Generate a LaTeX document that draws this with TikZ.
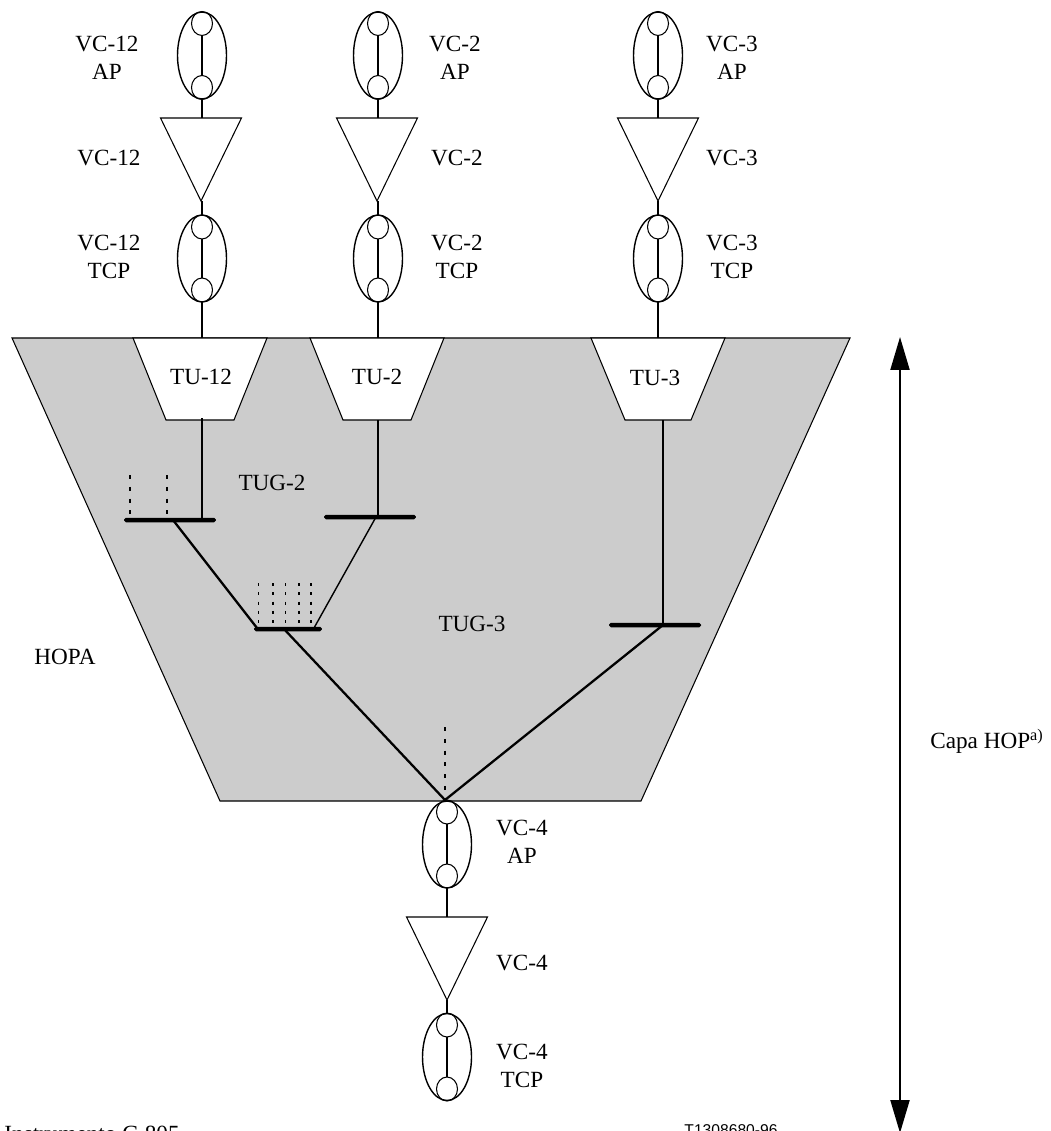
\documentclass[tikz,border=0pt]{standalone}
\usepackage{fontspec}
\setmainfont{Liberation Serif}
\newfontfamily\codefont{Liberation Sans}
\usetikzlibrary{shapes.geometric,arrows.meta}
\definecolor{hopagray}{HTML}{CCCCCC}

\begin{document}
\begin{tikzpicture}[
    x=0.02cm, y=-0.02cm,
    every node/.append style={font=\fontsize{13.2}{15.6}\selectfont},
    % shapes
    oval/.style={draw, ellipse, line width=0.8pt, inner sep=0pt, outer sep=0pt, minimum width=0.98cm, minimum height=1.74cm},
    port/.style={draw, ellipse, line width=0.6pt, inner sep=0pt, outer sep=0pt, minimum width=0.42cm, minimum height=0.48cm},
    adapter/.style={draw, isosceles triangle, isosceles triangle stretches, shape border rotate=-90, isosceles triangle apex angle=52, line width=0.6pt, inner sep=0pt, outer sep=0pt, minimum width=1.62cm, minimum height=1.66cm},
    tubox/.style={draw, fill=white, line width=0.6pt},
    layerbox/.style={draw, fill=hopagray, line width=0.6pt},
    tugbar/.style={fill=black, rounded corners=1pt, inner sep=0pt, outer sep=0pt, minimum height=0.09cm},
    label/.style={align=center, inner sep=0pt},
    link/.style={line width=1.3pt},
    thinlink/.style={line width=0.8pt},
    stub/.style={line width=1.5pt, dash pattern=on 2.3pt off 4.4pt},
    finestub/.style={line width=0.6pt, dash pattern=on 1.8pt off 3.5pt},
    layerarrow/.style={{Triangle[length=0.66cm,width=0.38cm]}-{Triangle[length=0.66cm,width=0.38cm]}, line width=1.2pt},
]
\useasboundingbox (0,0) rectangle (1050,1131);

% ========== HOPA layer ==========
\draw[layerbox] (12,338) -- (850,338) -- (641,801) -- (220,801) -- cycle;
\draw[tubox] (133,338) -- (267,338) -- (234,420) -- (166,420) -- cycle;
\draw[tubox] (310,338) -- (444,338) -- (411,420) -- (343,420) -- cycle;
\draw[tubox] (591,338) -- (725,338) -- (691,420) -- (625,420) -- cycle;
\node[label] (tu12) at (201,377) {TU-12};
\node[label] (tu2) at (377,377) {TU-2};
\node[label] (tu3) at (655,378) {TU-3};
\node[label] (tug2) at (272,483) {TUG-2};
\node[label] (tug3) at (472,624) {TUG-3};
\node[label] (hopa) at (65,657) {HOPA};

% ========== VC-12 column ==========
\node[oval] (ap12) at (202,55.5) {};
\node[port] (ap12a) at (202,23.5) {};
\node[port] (ap12b) at (202,87.5) {};
\node[adapter, anchor=lower side] (ad12) at (201,118) {\strut};
\node[oval] (tcp12) at (202,258.5) {};
\node[port] (tcp12a) at (202,227) {};
\node[port] (tcp12b) at (202,290) {};
\coordinate (tu12in) at (202,338);
\draw[link] (ap12a.south) -- (ap12b.north);
\draw[link] (ap12.south) -- (ad12.lower side -| ap12.south);
\draw[link] (ad12.apex -| tcp12.north) -- (tcp12.north);
\draw[link] (tcp12a.south) -- (tcp12b.north);
\draw[link] (tcp12.south) -- (tu12in);
\node[label] (lap12) at (107,58) {VC-12\\AP};
\node[label] (lad12) at (109,158) {VC-12};
\node[label] (ltcp12) at (109,257) {VC-12\\TCP};

% ========== VC-2 column ==========
\node[oval] (ap2) at (378,55.5) {};
\node[port] (ap2a) at (378,23.5) {};
\node[port] (ap2b) at (378,87.5) {};
\node[adapter, anchor=lower side] (ad2) at (377,118) {\strut};
\node[oval] (tcp2) at (378,258.5) {};
\node[port] (tcp2a) at (378,227) {};
\node[port] (tcp2b) at (378,290) {};
\coordinate (tu2in) at (378,338);
\draw[link] (ap2a.south) -- (ap2b.north);
\draw[link] (ap2.south) -- (ad2.lower side -| ap2.south);
\draw[link] (ad2.apex -| tcp2.north) -- (tcp2.north);
\draw[link] (tcp2a.south) -- (tcp2b.north);
\draw[link] (tcp2.south) -- (tu2in);
\node[label] (lap2) at (455,58) {VC-2\\AP};
\node[label] (lad2) at (457,158) {VC-2};
\node[label] (ltcp2) at (457,257) {VC-2\\TCP};

% ========== VC-3 column ==========
\node[oval] (ap3) at (658,55.5) {};
\node[port] (ap3a) at (658,23.5) {};
\node[port] (ap3b) at (658,87.5) {};
\node[adapter, anchor=lower side] (ad3) at (658,118) {\strut};
\node[oval] (tcp3) at (658,258.5) {};
\node[port] (tcp3a) at (658,227) {};
\node[port] (tcp3b) at (658,290) {};
\coordinate (tu3in) at (658,338);
\draw[link] (ap3a.south) -- (ap3b.north);
\draw[link] (ap3.south) -- (ad3.lower side);
\draw[link] (ad3.apex) -- (tcp3.north);
\draw[link] (tcp3a.south) -- (tcp3b.north);
\draw[link] (tcp3.south) -- (tu3in);
\node[label] (lap3) at (732,58) {VC-3\\AP};
\node[label] (lad3) at (732,158) {VC-3};
\node[label] (ltcp3) at (732,257) {VC-3\\TCP};

% ========== TUG bars ==========
\node[tugbar, minimum width=1.84cm] (tugA) at (170,520) {};
\node[tugbar, minimum width=1.84cm] (tugB) at (370,517) {};
\node[tugbar, minimum width=1.36cm] (tugC) at (288,629) {};
\node[tugbar, minimum width=1.84cm] (tugD) at (655,625) {};

% junctions
\coordinate (tu12out) at (202,418);
\coordinate (tu2out) at (378,420);
\coordinate (tu3out) at (663,420);
\coordinate (tugAin) at (202,520);
\coordinate (tugAout) at (173,520);
\coordinate (tugBin) at (378,517);
\coordinate (tugBout) at (376,517);
\coordinate (tugCa) at (257,628);
\coordinate (tugCb) at (314,628);
\coordinate (tugCout) at (284,629);
\coordinate (tugDin) at (663,625);
\coordinate (vc4in) at (445,800);

\draw[link] (tu12out) -- (tugAin);
\draw[thinlink] (tu2out) -- (tugBin);
\draw[thinlink] (tu3out) -- (tugDin);
\draw[link] (tugAout) -- (tugCa);
\draw[thinlink] (tugBout) -- (tugCb);
\draw[link] (tugCout) -- (vc4in);
\draw[link] (tugDin) -- (vc4in);

% dashed stubs
\draw[stub] (130,475) -- (130,514);
\draw[stub] (167,475) -- (167,514);
\draw[finestub] (258.5,583) -- (258.5,624);
\draw[finestub] (273,583) -- (273,624);
\draw[finestub] (285.5,583) -- (285.5,624);
\draw[finestub] (299,583) -- (299,624);
\draw[finestub] (311,583) -- (311,624);
\draw[stub] (445,727) -- (445,798);

% ========== VC-4 column ==========
\node[oval] (ap4) at (447,844.5) {};
\node[port] (ap4a) at (447,812) {};
\node[port] (ap4b) at (447,876) {};
\node[adapter, anchor=lower side] (ad4) at (447,917) {\strut};
\node[oval] (tcp4) at (447,1057) {};
\node[port] (tcp4a) at (447,1025) {};
\node[port] (tcp4b) at (447,1089) {};
\draw[link] (ap4a.south) -- (ap4b.north);
\draw[link] (ap4.south) -- (ad4.lower side);
\draw[link] (ad4.apex) -- (tcp4.north);
\draw[link] (tcp4a.south) -- (tcp4b.north);
\node[label] (lap4) at (522,842) {VC-4\\AP};
\node[label] (lad4) at (522,963) {VC-4};
\node[label] (ltcp4) at (522,1066) {VC-4\\TCP};

% ========== layer arrow ==========
\coordinate (layertop) at (900,337);
\coordinate (layerbot) at (900,1133);
\draw[layerarrow] (layertop) -- (layerbot);
\node[label, anchor=base east] (lhop) at (1044,748) {Capa HOP\textsuperscript{a)}};

% ========== footer ==========
\node[label, anchor=base east] (lref) at (180,1141) {Instrumento G.805};
\node[label, anchor=base, font=\codefont\fontsize{8.9}{10}\selectfont] (lcode) at (731,1135) {T1308680-96};

\end{tikzpicture}
\end{document}
